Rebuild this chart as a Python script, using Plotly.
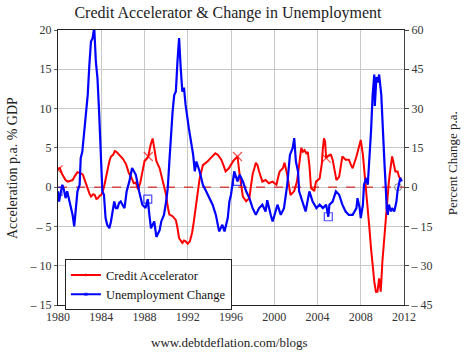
import plotly.graph_objects as go

# Credit accelerator (% GDP p.a., left axis)
red_years = [1980.0, 1980.15, 1980.4, 1980.7, 1980.9, 1981.15, 1981.35, 1981.6, 1981.8, 1982.05,
             1982.3, 1982.5, 1982.7, 1982.9, 1983.05, 1983.25, 1983.4, 1983.55, 1983.7, 1983.85,
             1984.0, 1984.15, 1984.3, 1984.45, 1984.6, 1984.75, 1984.9, 1985.1, 1985.25, 1985.4,
             1985.6, 1985.8, 1986.0, 1986.3, 1986.55, 1986.8, 1987.0, 1987.2, 1987.4, 1987.6,
             1987.8, 1988.0, 1988.2, 1988.35, 1988.55, 1988.75, 1988.9, 1989.1, 1989.4, 1989.7,
             1990.0, 1990.15, 1990.3, 1990.6, 1990.9, 1991.05, 1991.2, 1991.5, 1991.65, 1991.8,
             1992.0, 1992.2, 1992.4, 1992.55, 1992.7, 1992.85, 1993.1, 1993.4, 1993.6, 1993.85,
             1994.05, 1994.3, 1994.55, 1994.8, 1995.1, 1995.3, 1995.5, 1995.8, 1996.0, 1996.2,
             1996.45, 1996.6, 1996.8, 1997.0, 1997.1, 1997.4, 1997.7, 1997.85, 1998.0, 1998.3,
             1998.45, 1998.6, 1998.9, 1999.2, 1999.5, 1999.85, 2000.2, 2000.35, 2000.5, 2000.8,
             2000.95, 2001.2, 2001.35, 2001.5, 2001.85, 2002.1, 2002.3, 2002.5, 2002.65, 2002.8,
             2003.0, 2003.1, 2003.25, 2003.4, 2003.7, 2003.86, 2004.2, 2004.4, 2004.5, 2004.6,
             2004.7, 2004.8, 2005.0, 2005.25, 2005.4, 2005.55, 2005.75, 2006.0, 2006.15, 2006.3,
             2006.6, 2006.9, 2007.1, 2007.25, 2007.6, 2007.9, 2008.0, 2008.2, 2008.35, 2008.5,
             2008.65, 2008.8, 2008.95, 2009.1, 2009.25, 2009.4, 2009.55, 2009.7, 2009.85, 2010.0,
             2010.15, 2010.3, 2010.45, 2010.6, 2010.75, 2010.9, 2011.0, 2011.2, 2011.4, 2011.55,
             2011.75]
credit_accel = [2.2, 2.5, 1.6, 0.9, 0.7, 0.8, 0.9, 1.5, 1.9, 1.8,
                1.6, 0.8, -0.1, -0.8, -1.2, -0.9, -1.0, -1.5, -1.4, -1.1,
                -1.0, -0.5, 0.3, 1.4, 2.4, 3.3, 3.9, 4.1, 4.6, 4.5,
                4.2, 3.9, 3.6, 2.9, 1.8, 1.2, 0.5, 0.6, -0.3, 0.5,
                2.0, 3.3, 3.6, 3.9, 5.3, 6.2, 5.0, 3.3, 2.4, 0.7,
                -1.0, -2.5, -3.5, -3.7, -4.2, -5.2, -6.5, -7.1, -6.8, -6.9,
                -7.2, -6.9, -5.8, -4.5, -2.8, -1.4, 1.1, 2.8, 3.0, 3.3,
                3.6, 3.9, 4.3, 4.1, 3.5, 2.8, 2.0, 2.4, 2.9, 3.3,
                3.7, 3.9, 1.6, -0.2, -1.2, -1.8, -1.4, 0.2, 1.6, 3.1,
                2.8, 2.0, 0.7, 0.9, 0.5, 0.7, 0.3, 1.2, 2.0, 2.4,
                3.1, 1.6, 0.2, -1.0, -0.5, 0.7, 2.8, 5.0, 4.5, 4.7,
                4.2, 4.5, 2.8, -0.1, -0.5, 0.7, 1.1, 3.0, 5.0, 6.2,
                5.8, 3.7, 4.0, 4.1, 3.5, 2.4, 0.9, 1.3, 2.5, 3.9,
                3.5, 3.5, 2.8, 2.4, 3.9, 5.8, 6.0, 4.1, 2.0, -0.1,
                -2.7, -5.2, -7.8, -10.3, -12.0, -13.3, -13.3, -11.6, -13.3, -9.5,
                -6.9, -3.5, -1.0, 0.7, 2.4, 3.9, 3.3, 2.0, 2.0, 1.3,
                0.9]
red_marker_years = [1980.0, 1988.35, 1996.6, 2004.8]

# Unemployment change (% p.a., right axis)
blue_years = [1980.0, 1980.1, 1980.25, 1980.4, 1980.55, 1980.7, 1980.85, 1981.05, 1981.2, 1981.35,
              1981.5, 1981.65, 1981.8, 1982.0, 1982.1, 1982.25, 1982.4, 1982.55, 1982.75, 1982.9,
              1983.05, 1983.2, 1983.35, 1983.5, 1983.65, 1983.8, 1984.0, 1984.1, 1984.25, 1984.4,
              1984.55, 1984.75, 1984.9, 1985.05, 1985.2, 1985.35, 1985.5, 1985.65, 1985.8, 1986.0,
              1986.15, 1986.35, 1986.6, 1986.85, 1987.05, 1987.2, 1987.5, 1987.8, 1988.1, 1988.3,
              1988.45, 1988.6, 1988.9, 1989.1, 1989.2, 1989.4, 1989.55, 1989.8, 1990.0, 1990.15,
              1990.3, 1990.45, 1990.6, 1990.75, 1990.9, 1991.05, 1991.2, 1991.35, 1991.5, 1991.65,
              1991.8, 1992.1, 1992.3, 1992.5, 1992.65, 1992.8, 1993.1, 1993.4, 1993.7, 1994.0,
              1994.3, 1994.6, 1994.8, 1994.9, 1995.2, 1995.4, 1995.7, 1995.85, 1996.0, 1996.15,
              1996.3, 1996.6, 1996.8, 1997.1, 1997.4, 1997.7, 1998.0, 1998.3, 1998.6, 1998.9,
              1999.2, 1999.35, 1999.5, 1999.7, 1999.85, 2000.0, 2000.3, 2000.6, 2000.9, 2001.2,
              2001.45, 2001.7, 2001.85, 2002.0, 2002.2, 2002.3, 2002.6, 2002.9, 2003.25, 2003.55,
              2003.9, 2004.2, 2004.5, 2004.8, 2005.0, 2005.1, 2005.4, 2005.7, 2006.0, 2006.3,
              2006.6, 2006.9, 2007.25, 2007.6, 2007.7, 2007.9, 2008.0, 2008.2, 2008.3, 2008.5,
              2008.65, 2008.8, 2008.95, 2009.1, 2009.2, 2009.25, 2009.3, 2009.45, 2009.6, 2009.7,
              2009.9, 2010.0, 2010.2, 2010.3, 2010.4, 2010.5, 2010.6, 2010.8, 2010.9, 2011.1,
              2011.3, 2011.4, 2011.6, 2011.65, 2011.8]
unemp_change = [-1.6, -5.5, -2.0, 0.9, -1.0, -4.2, -1.6, -5.5, -8.7, -10.6,
                -15.0, -6.7, -1.6, 0.9, 11.1, 13.6, 20.0, 25.1, 35.2, 46.7,
                55.6, 56.9, 61.0, 48.0, 41.6, 28.9, 9.8, -1.6, -2.9, -11.8,
                -14.4, -15.7, -13.1, -9.3, -5.5, -8.0, -8.0, -6.0, -5.5, -7.0,
                -8.0, -1.6, 2.2, 7.3, 6.0, 4.7, -1.6, -6.7, -8.0, -4.6,
                -10.6, -15.7, -13.1, -19.0, -18.2, -16.4, -13.1, -10.6, -5.5, -0.4,
                9.8, 20.0, 28.9, 35.2, 36.5, 48.0, 56.9, 45.4, 36.5, 38.0,
                31.4, 22.5, 17.4, 12.3, 6.0, 9.8, 6.0, 0.9, -1.6, -4.2,
                -6.7, -10.6, -14.4, -16.9, -14.4, -16.9, -11.8, -5.5, -2.9, 2.2,
                6.0, 2.2, 4.7, 2.2, -1.6, -4.2, -8.0, -10.6, -8.0, -6.7,
                -9.3, -5.0, -8.0, -11.0, -13.1, -10.6, -6.7, -10.6, -8.0, 0.9,
                12.3, 14.9, 18.7, 9.8, 6.0, -1.6, -5.5, -9.3, -1.6, -5.5,
                -8.0, -6.7, -8.0, -6.7, -11.3, -6.7, -5.5, -1.6, -2.9, -6.7,
                -9.3, -10.6, -10.6, -8.0, -4.2, -8.0, -11.8, -6.7, 0.9, 3.5,
                0.9, 9.8, 21.3, 35.2, 41.6, 43.0, 31.0, 42.0, 40.0, 43.0,
                35.2, 23.8, 8.5, 0.9, -8.0, -10.6, -6.7, -9.3, -8.0, -9.3,
                -5.5, -1.6, 2.2, 3.5, 2.2]
blue_marker_years = [1980.0, 1988.3, 1996.6, 2005.0]

zero_years = [1980.0, 2011.45, 2012.0]
zero_values = [0, 0, 0]
zero_marker_years = [2011.45]

x_ticks = list(range(1980, 2013, 4))
left_ticks = [-15, -10, -5, 0, 5, 10, 15, 20]
left_labels = ["\u2013 15", "\u2013 10", "\u2013 5", "0", "5", "10", "15", "20"]
right_ticks = [-45, -30, -15, 0, 15, 30, 45, 60]
right_labels = ["\u2013 45", "\u2013 30", "\u2013 15", "0", "15", "30", "45", "60"]

SERIF = "Liberation Serif"


def marker_sizes(years, marked, size):
    return [size if y in marked else 0 for y in years]


fig = go.Figure()
fig.add_trace(go.Scatter(
    x=zero_years, y=zero_values, mode="lines+markers", showlegend=False,
    line=dict(color="#d00000", width=1, dash="dash"),
    marker=dict(symbol="circle-open", color="#555555",
                size=marker_sizes(zero_years, zero_marker_years, 7), line=dict(width=1)),
    hoverinfo="skip", yaxis="y"))
fig.add_trace(go.Scatter(
    x=red_years, y=credit_accel, mode="lines+markers", name="Credit Accelerator",
    line=dict(color="#ff0000", width=2),
    marker=dict(symbol="x-thin-open", color="#ff0000",
                size=marker_sizes(red_years, red_marker_years, 9), line=dict(width=1.2, color="#ff0000")),
    yaxis="y"))
fig.add_trace(go.Scatter(
    x=blue_years, y=unemp_change, mode="lines+markers", name="Unemployment Change",
    line=dict(color="#0000ff", width=2.2),
    marker=dict(symbol="square-open", color="#0000ff",
                size=marker_sizes(blue_years, blue_marker_years, 8), line=dict(width=1.2, color="#0000ff")),
    yaxis="y2"))

fig.update_layout(
    width=470, height=355,
    margin=dict(l=58, r=66, t=30, b=50, autoexpand=False),
    paper_bgcolor="white", plot_bgcolor="white",
    font=dict(family=SERIF, size=12, color="#333333"),
    title=dict(text="Credit Accelerator & Change in Unemployment", x=0.485, xanchor="center",
               y=0.965, yanchor="middle", font=dict(family=SERIF, size=16, color="#222222")),
    xaxis=dict(range=[1980, 2012], tickvals=x_ticks, ticktext=[str(t) for t in x_ticks],
               showgrid=True, gridcolor="#c8c8c8", gridwidth=1.3, zeroline=False,
               showline=True, linecolor="#222222", linewidth=1.2, mirror=True, automargin=False,
               ticks="", tickfont=dict(family=SERIF, size=12, color="#333333")),
    yaxis=dict(range=[-15, 20], tickvals=left_ticks, ticktext=left_labels,
               showgrid=True, gridcolor="#c8c8c8", gridwidth=1.3, zeroline=False,
               showline=True, linecolor="#222222", linewidth=1.2, mirror=True, automargin=False,
               ticks="outside", ticklen=3, tickcolor="#666666",
               tickfont=dict(family=SERIF, size=12, color="#333333")),
    yaxis2=dict(range=[-45, 60], tickvals=right_ticks, ticktext=right_labels,
                overlaying="y", side="right", showgrid=False, zeroline=False,
                showline=True, linecolor="#444444", linewidth=1.2, automargin=False,
                ticks="outside", ticklen=4, tickcolor="#444444",
                tickfont=dict(family=SERIF, size=12, color="#333333")),
    legend=dict(x=0.02, y=0.166, xanchor="left", yanchor="top",
                bgcolor="white", bordercolor="#222222", borderwidth=1,
                font=dict(family=SERIF, size=12.5, color="#111111"),
                tracegroupgap=0, itemwidth=30),
    annotations=[
        dict(text="www.debtdeflation.com/blogs", xref="paper", yref="paper",
             x=0.497, y=-0.138, xanchor="center", yanchor="middle", showarrow=False,
             font=dict(family=SERIF, size=13, color="#222222")),
        dict(text="Acceleration p.a. % GDP", xref="paper", yref="paper", textangle=-90,
             x=-0.133, y=0.498, xanchor="center", yanchor="middle", showarrow=False,
             font=dict(family=SERIF, size=14, color="#222222")),
        dict(text="Percent Change p.a.", xref="paper", yref="paper", textangle=-90,
             x=1.139, y=0.516, xanchor="center", yanchor="middle", showarrow=False,
             font=dict(family=SERIF, size=13, color="#222222")),
    ],
)

fig.write_html("out.html", config={"displayModeBar": False},
               post_script="document.body.style.margin='0';")
